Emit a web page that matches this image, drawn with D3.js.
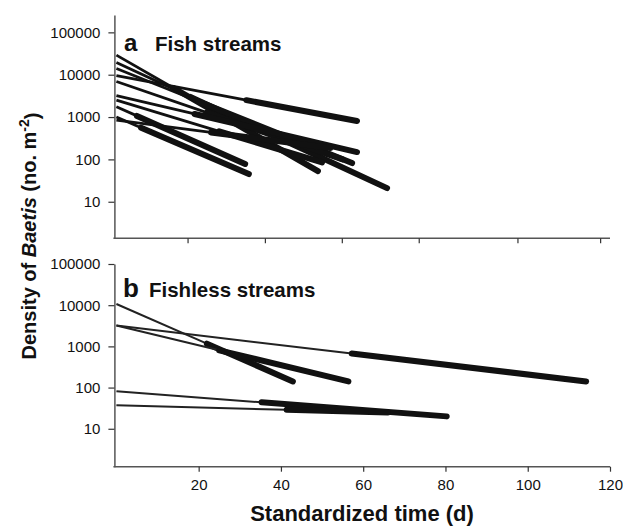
<!DOCTYPE html>
<html><head><meta charset="utf-8">
<script src="https://cdn.jsdelivr.net/npm/d3@7"></script>
<style>
html,body{margin:0;padding:0;background:#fff;}
text{font-family:"Liberation Sans",Arial,Helvetica,sans-serif;fill:#111;}
</style></head>
<body>
<svg id="chart" width="623" height="526"></svg>
<script>
// ---- data ----
const xTicks = [20, 40, 60, 80, 100, 120];
const topXTicks = [17.3, 36.1, 54.8, 73.5, 97.5, 117.6];
const yTicks = [10, 100, 1000, 10000, 100000];

// Fish streams (panel a): value at day 0, day the observed (thick) part starts, last day, value at last day
const fishStart     = [29000, 19400, 14000, 9500, 6900, 3200, 2500, 1750, 1000, 850];
const fishThickFrom = [14, 18, 20, 31.6, 22, 19, 25, 5, 6, 23];
const fishEndDay    = [49, 65.8, 57.3, 58.5, 55, 58.5, 50, 31.3, 32.2, 52];
const fishEnd       = [53, 21, 82, 805, 100, 149, 85, 78, 45, 185];

// Fishless streams (panel b)
const fishlessStart     = [10700, 3200, 3200, 81, 37];
const fishlessThickFrom = [22, 57.2, 25, 35.3, 41.4];
const fishlessEndDay    = [42.9, 114.2, 56.4, 80.3, 66];
const fishlessEnd       = [141, 141, 141, 20, 25];

// ---- layout ----
const svg = d3.select("#chart");
const x = d3.scaleLinear().domain([0, 120]).range([116.4, 610]);
const yTop = d3.scaleLog().domain([1.37, 257000]).range([238.3, 15]);
const yBot = d3.scaleLog().domain([1.2, 100000]).range([466.7, 264]);

function valueAt(v0, tEnd, vEnd, t) {
  return v0 * Math.pow(vEnd / v0, t / tEnd);
}

function drawPanel(y, starts, thickFrom, endDays, ends, thinW, thickW, thinColor) {
  const g = svg.append("g");
  const line = d3.line().x(d => x(d[0])).y(d => y(d[1]));
  starts.forEach((v0, i) => {
    const t1 = thickFrom[i], t2 = endDays[i], v2 = ends[i];
    const thin = [[0, v0], [t1, valueAt(v0, t2, v2, t1)]];
    const thick = [[t1, valueAt(v0, t2, v2, t1)], [t2, v2]];
    g.append("path").attr("d", line(thin)).attr("fill", "none")
      .attr("stroke", thinColor).attr("stroke-width", thinW).attr("stroke-linecap", "butt");
    g.append("path").attr("d", line(thick)).attr("fill", "none")
      .attr("stroke", "#111").attr("stroke-width", thickW).attr("stroke-linecap", "round");
  });
}

function drawAxes(y, axisY, ticks, labelled) {
  const axisColor = "#555";
  const xa = svg.append("g").attr("transform", `translate(0,${axisY})`)
    .call(d3.axisBottom(x).tickValues(ticks).tickSize(5).tickSizeOuter(0)
      .tickFormat(labelled ? d3.format("d") : ""));
  xa.select(".domain").attr("stroke", axisColor).attr("stroke-width", 1.5)
    .attr("d", `M${x(0) - 3},0H${x(120)}`);
  xa.selectAll(".tick line").attr("stroke", "#333").attr("stroke-width", 1.2);
  xa.selectAll(".tick text").style("font-size", "15px").attr("dy", "1.05em").attr("fill", "#111");
  const ya = svg.append("g").attr("transform", `translate(${x(0) - 2},0)`)
    .call(d3.axisLeft(y).tickValues(yTicks).tickSize(6).tickSizeOuter(0).tickPadding(8)
      .tickFormat(d3.format("d")));
  ya.select(".domain").attr("stroke", axisColor).attr("stroke-width", 1.5);
  ya.selectAll(".tick line").attr("stroke", "#333").attr("stroke-width", 1.2);
  ya.selectAll(".tick text").style("font-size", "15px").attr("fill", "#111");
}

drawAxes(yTop, 238.3, topXTicks, false);
drawAxes(yBot, 466.7, xTicks, true);

drawPanel(yTop, fishStart, fishThickFrom, fishEndDay, fishEnd, 2.8, 6, "#111");
drawPanel(yBot, fishlessStart, fishlessThickFrom, fishlessEndDay, fishlessEnd, 2, 6, "#222");

// panel labels
svg.append("text").attr("x", 124).attr("y", 51).style("font-size", "24px").style("font-weight", "bold").text("a");
svg.append("text").attr("x", 155).attr("y", 51).style("font-size", "20.5px").style("font-weight", "bold").text("Fish streams");
svg.append("text").attr("x", 123).attr("y", 297).style("font-size", "26px").style("font-weight", "bold").text("b");
svg.append("text").attr("x", 149).attr("y", 297).style("font-size", "20.5px").style("font-weight", "bold").text("Fishless streams");

// axis titles
svg.append("text").attr("x", 362).attr("y", 521).attr("text-anchor", "middle")
  .style("font-size", "22px").style("font-weight", "bold").text("Standardized time (d)");

const yt = svg.append("text").attr("transform", "translate(36,236) rotate(-90)")
  .attr("text-anchor", "middle").style("font-size", "20px").style("font-weight", "bold");
yt.append("tspan").text("Density of ");
yt.append("tspan").style("font-style", "italic").text("Baetis");
yt.append("tspan").text(" (no. m");
yt.append("tspan").attr("dy", "-0.5em").style("font-size", "14px").text("-2");
yt.append("tspan").attr("dy", "0.5em").text(")");
</script>
</body></html>
